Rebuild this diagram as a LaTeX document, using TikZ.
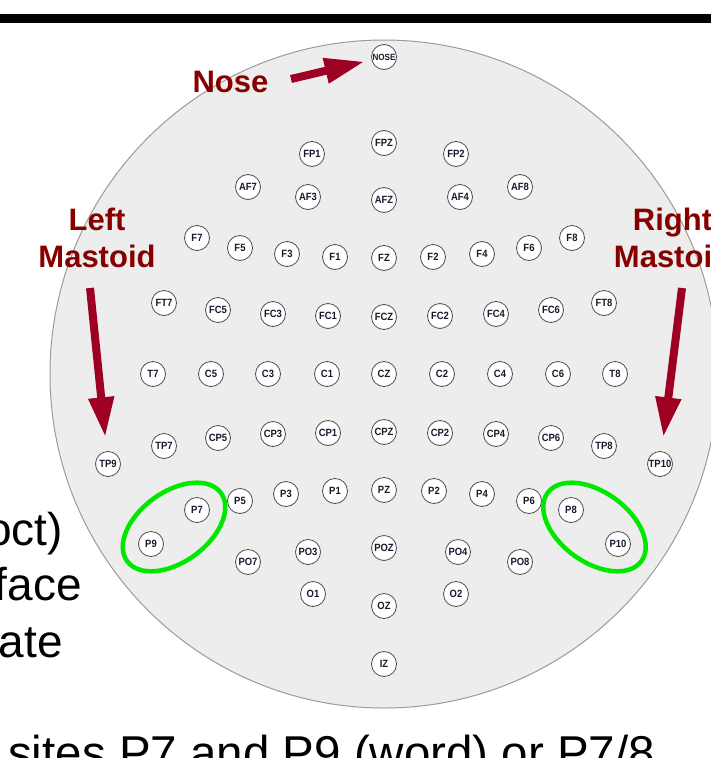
\documentclass[tikz,border=0pt]{standalone}
\usepackage{fontspec}
\setmainfont{Liberation Sans}
\newfontfamily\labelfont[FakeStretch=0.9]{Liberation Sans}
\usetikzlibrary{arrows.meta,calc}
\definecolor{headfill}{RGB}{237,237,237}
\definecolor{headline}{RGB}{155,155,155}
\definecolor{labeltext}{RGB}{25,25,45}
\definecolor{arrowred}{RGB}{158,0,35}
\definecolor{titlered}{RGB}{135,0,0}
\definecolor{groupgreen}{RGB}{0,232,0}

\begin{document}
\begin{tikzpicture}[x=1pt,y=-1pt,
  electrode/.style={circle, draw=black!70, fill=white, line width=0.8pt,
    minimum size=25pt, inner sep=0pt, text=labeltext,
    font=\labelfont\fontsize{10.5}{11}\selectfont\bfseries},
  callout/.style={font=\fontsize{31}{37}\selectfont\bfseries, text=titlered,
    align=center, inner sep=0pt},
  pointer/.style={arrowred, line width=8pt, -{Triangle[length=40pt,width=24pt]}},
  group/.style={groupgreen, line width=4.5pt},
  slidetext/.style={font=\fontsize{46}{56}\selectfont, text=black, inner sep=0pt}
]
\useasboundingbox (0,0) rectangle (711,758);
\clip (0,0) rectangle (711,758);

% slide rule across the top
\fill[black] (0,14) rectangle (711,22.5);

% fragments of the slide text beside and below the head map
\node[slidetext, anchor=base east] (lineA) at (63,545) {oct)};
\node[slidetext, anchor=base east] (lineB) at (82,600) {face};
\node[slidetext, anchor=base east] (lineC) at (63,657) {ate};
\node[slidetext, anchor=base west, font=\fontsize{47.5}{56}\selectfont] (lineD) at (8,769) {sites P7 and P9 (word) or P7/8};

% head outline
\filldraw[fill=headfill, draw=headline, line width=1pt] (384,374) circle (334pt);

% electrode sites
\node[electrode, font=\labelfont\fontsize{9}{10}\selectfont\bfseries] (nose) at (384,57) {NOSE};
\foreach \n/\lbl/\x/\y in {
  fp1/FP1/312/154, fpz/FPZ/384/143, fp2/FP2/456/154,
  af7/AF7/248/187, af3/AF3/308/197, afz/AFZ/384/200, af4/AF4/460/197, af8/AF8/520/187,
  f7/F7/197/238, f5/F5/240/248, f3/F3/287/254, f1/F1/335/257, fz/FZ/384/258,
  f2/F2/433/257, f4/F4/482/254, f6/F6/529/248, f8/F8/572/238,
  ft7/FT7/164/303, fc5/FC5/218/310, fc3/FC3/273/314, fc1/FC1/328/316, fcz/FCZ/384/317,
  fc2/FC2/440/316, fc4/FC4/496/314, fc6/FC6/551/310, ft8/FT8/604/303,
  t7/T7/153/374, c5/C5/211/374, c3/C3/268/374, c1/C1/327/374, cz/CZ/384/374,
  c2/C2/442/374, c4/C4/500/374, c6/C6/558/374, t8/T8/615/374,
  tp9/TP9/108/464, tp7/TP7/164/446, cp5/CP5/218/438, cp3/CP3/273/434, cp1/CP1/328/433,
  cpz/CPZ/384/432, cp2/CP2/440/433, cp4/CP4/496/434, cp6/CP6/551/438, tp8/TP8/604/446,
  tp10/TP10/660/464,
  p9/P9/151/544, p7/P7/197/510, p5/P5/240/501, p3/P3/286/494, p1/P1/335/491,
  pz/PZ/384/490, p2/P2/434/491, p4/P4/482/494, p6/P6/529/501, p8/P8/571/510,
  p10/P10/618/544,
  po7/PO7/248/562, po3/PO3/308/552, poz/POZ/384/548, po4/PO4/458/552, po8/PO8/520/562,
  o1/O1/313/594, oz/OZ/384/606, o2/O2/456/594,
  iz/IZ/384/664}
  \node[electrode] (\n) at (\x,\y) {\lbl};

% highlighted electrode pairs
\coordinate (leftpair) at ($(p7)!0.5!(p9)$);
\coordinate (rightpair) at ($(p8)!0.5!(p10)$);
\draw[group, rotate around={36:(leftpair)}] (leftpair) ellipse [x radius=58pt, y radius=35pt];
\draw[group, rotate around={-36:(rightpair)}] (rightpair) ellipse [x radius=58pt, y radius=35pt];

% callouts
\node[callout, anchor=base] (noselabel) at (230.5,92) {Nose};
\node[callout, anchor=north] (leftlabel) at (97,207.5) {Left\\Mastoid};
\node[callout, anchor=north] (rightlabel) at (672.5,207.5) {Right\\Mastoid};

\coordinate (nosetail) at (291,79);
\coordinate (lefttail) at (90,288);
\coordinate (righttail) at (682,288);
\draw[pointer, shorten >=7pt] (nosetail) -- (nose);
\draw[pointer, shorten >=14pt] (lefttail) -- (tp9);
\draw[pointer, shorten >=14pt] (righttail) -- (tp10);
\end{tikzpicture}
\end{document}
